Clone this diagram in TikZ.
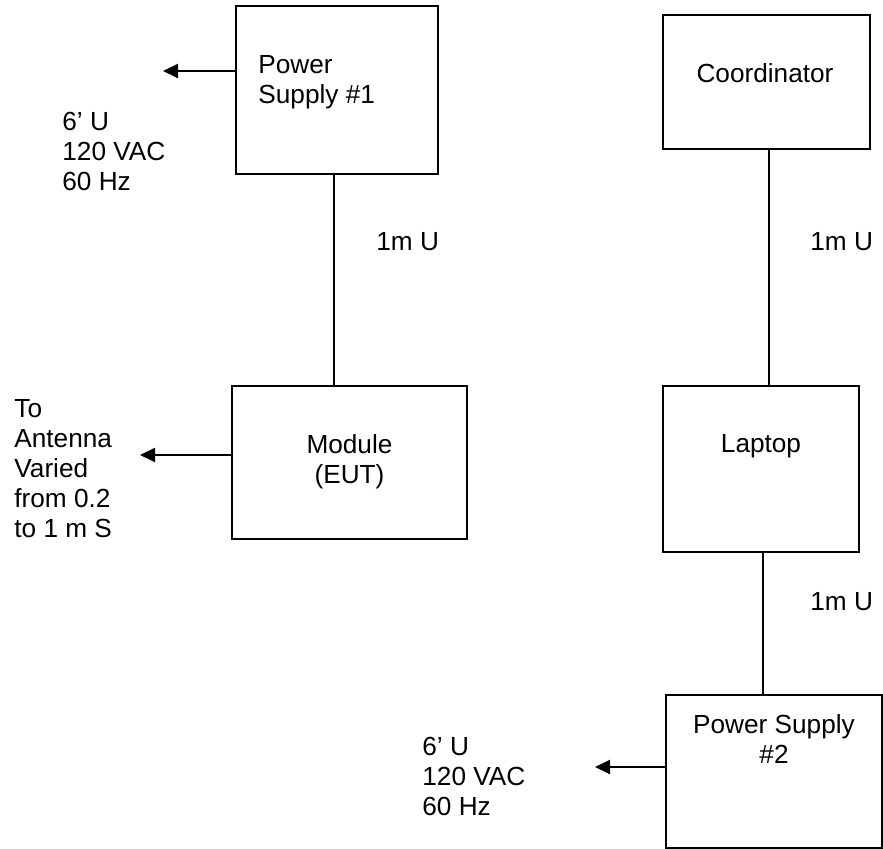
\documentclass[tikz,border=0pt]{standalone}
\usepackage{fontspec}
\setmainfont{Liberation Sans}
\usepackage{tikz}
\usetikzlibrary{positioning,arrows.meta,calc}

\begin{document}
\begin{tikzpicture}[x=0.5pt,y=-0.5pt,
    box/.style={draw, line width=1pt, inner sep=0pt},
    lbl/.style={inner sep=0pt, font=\fontsize{13.1}{15}\selectfont},
    arr/.style={line width=1pt, -{Triangle[length=7.5pt,width=7pt]}}]
    \useasboundingbox (0,0) rectangle (883,849);
    \node[box, minimum width=101pt, minimum height=84pt] (ps1) at (337,90) {};
    \node[box, minimum width=117.5pt, minimum height=76.5pt] (mod) at (349.5,462.5) {};
    \node[box, minimum width=103.5pt, minimum height=67pt] (coord) at (766.5,82) {};
    \node[box, minimum width=98pt, minimum height=83pt] (lap) at (761,469) {};
    \node[box, minimum width=108pt, minimum height=76.5pt] (ps2) at (774,771.5) {};

    \node[lbl, anchor=north west, align=left] (ps1txt) at (258,55) {Power\\Supply \#1};
    \node[lbl, anchor=north, align=center] (modtxt) at (349.5,434) {Module\\(EUT)};
    \node[lbl, anchor=north] (coordtxt) at (765,63) {Coordinator};
    \node[lbl, anchor=north] (laptxt) at (761,434) {Laptop};
    \node[lbl, anchor=north, align=center] (ps2txt) at (774,714) {Power Supply\\\#2};

    \node[lbl, anchor=north west, align=left] (mains1) at (62,112) {6’ U\\120 VAC\\60 Hz};
    \node[lbl, anchor=north west, align=left] (ant) at (14,399) {To\\Antenna\\Varied\\from 0.2\\to 1 m S};
    \node[lbl, anchor=north west, align=left] (mains2) at (422,737) {6’ U\\120 VAC\\60 Hz};
    \node[lbl, anchor=north west] (cab1) at (376,232) {1m U};
    \node[lbl, anchor=north west] (cab2) at (810,232) {1m U};
    \node[lbl, anchor=north west] (cab3) at (810,592) {1m U};

    \coordinate (tip1) at (163,71);
    \coordinate (tip2) at (140,455);
    \coordinate (tip3) at (595,767);
    \draw[arr] (tip1 -| ps1.west) -- (tip1);
    \draw[arr] (tip2 -| mod.west) -- (tip2);
    \draw[arr] (tip3 -| ps2.west) -- (tip3);

    \draw[line width=1pt] ([xshift=-1.5pt]ps1.south) -- ([xshift=-1.5pt]ps1.south |- mod.north);
    \draw[line width=1pt] ([xshift=1.25pt]coord.south) -- ([xshift=1.25pt]coord.south |- lap.north);
    \draw[line width=1pt] ([xshift=1pt]lap.south) -- ([xshift=1pt]lap.south |- ps2.north);
\end{tikzpicture}
\end{document}
